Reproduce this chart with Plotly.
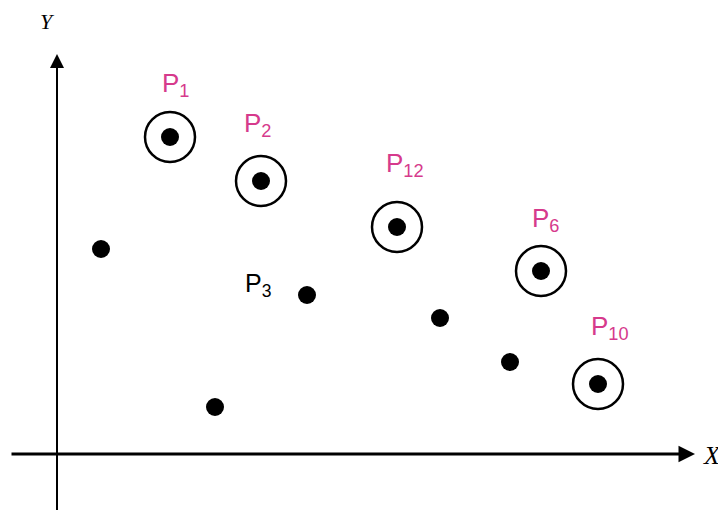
import plotly.graph_objects as go

# Points (data units, origin at axes intersection)
circled_names = ["P<sub>1</sub>", "P<sub>2</sub>", "P<sub>12</sub>", "P<sub>6</sub>", "P<sub>10</sub>"]
circled_x = [11.3, 20.4, 34.0, 48.4, 54.1]
circled_y = [31.7, 27.3, 22.7, 18.3, 7.0]
label_x = [11.8, 20.0, 34.8, 48.8, 55.3]
label_y = [37.0, 33.0, 29.0, 23.5, 12.7]

plain_x = [4.4, 15.8, 25.0, 38.3, 45.3]
plain_y = [20.5, 4.7, 15.9, 13.6, 9.2]
p3_label = "P<sub>3</sub>"
p3_label_x, p3_label_y = 20.1, 16.9

# ranges offset to compensate for the page's default 8px body margin
x_range = [-4.9, 67.7]
y_range = [-6.4, 44.6]

fig = go.Figure()

# rings
fig.add_trace(go.Scatter(
    x=circled_x, y=circled_y, mode="markers",
    marker=dict(size=50, color="rgba(0,0,0,0)", line=dict(color="black", width=2.5)),
    hoverinfo="skip", showlegend=False))
# dots
fig.add_trace(go.Scatter(
    x=circled_x + plain_x, y=circled_y + plain_y, mode="markers",
    marker=dict(size=18, color="black"),
    hoverinfo="skip", showlegend=False))

pink = "#d63a8c"
annotations = []
for n, lx, ly in zip(circled_names, label_x, label_y):
    annotations.append(dict(x=lx, y=ly, text=n, showarrow=False,
                            font=dict(family="Liberation Sans, Arial", size=26, color=pink)))
annotations.append(dict(x=p3_label_x, y=p3_label_y, text=p3_label, showarrow=False,
                        font=dict(family="Liberation Sans, Arial", size=25, color="black")))

# axes with arrows
annotations.append(dict(x=63.8, y=0, ax=-4.7, ay=0, xref="x", yref="y", axref="x", ayref="y",
                        text="", showarrow=True, arrowhead=2, arrowsize=1.1, arrowwidth=3,
                        arrowcolor="black"))
annotations.append(dict(x=0, y=40.0, ax=0, ay=-6.4, xref="x", yref="y", axref="x", ayref="y",
                        text="", showarrow=True, arrowhead=2, arrowsize=1.4, arrowwidth=2,
                        arrowcolor="black"))
annotations.append(dict(x=65.5, y=-0.1, text="<i>X</i>", showarrow=False,
                        font=dict(family="Liberation Serif", size=26, color="black")))
annotations.append(dict(x=-1.0, y=43.3, text="<i>Y</i>", showarrow=False,
                        font=dict(family="Liberation Serif", size=22, color="black")))

fig.update_layout(
    width=726, height=510,
    margin=dict(l=0, r=0, t=0, b=0),
    paper_bgcolor="white", plot_bgcolor="white",
    xaxis=dict(range=x_range, visible=False, fixedrange=True),
    yaxis=dict(range=y_range, visible=False, fixedrange=True),
    annotations=annotations,
)

fig.write_html("out.html")
